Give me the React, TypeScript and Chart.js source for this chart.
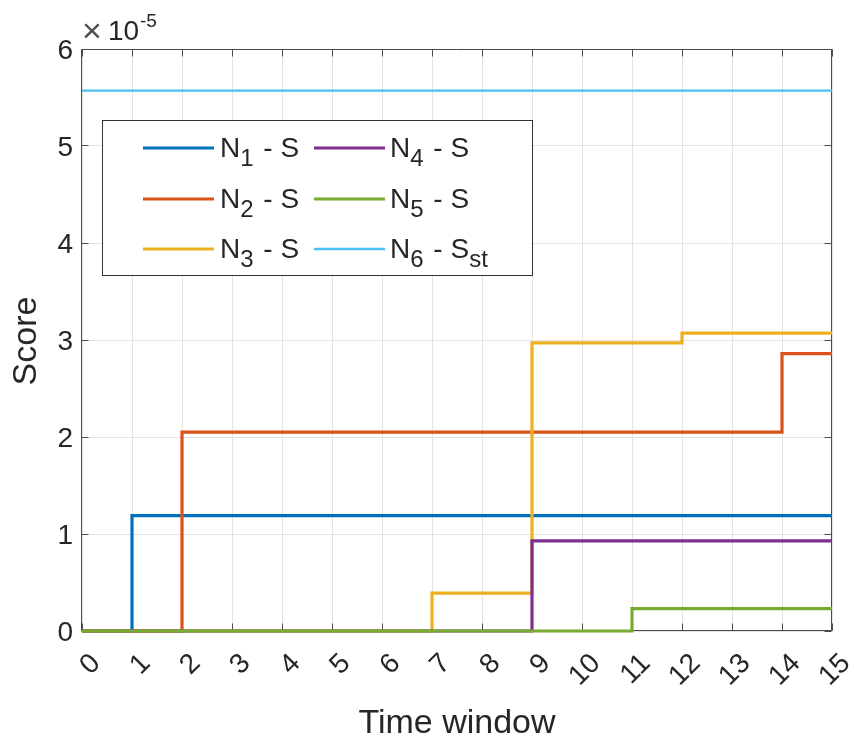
import React, { useEffect, useRef } from 'react';
import { Chart, registerables } from 'chart.js';
Chart.register(...registerables);

// Time windows (x) and scores (in units of 1e-5)
const timeWindows = [0, 1, 2, 3, 4, 5, 6, 7, 8, 9, 10, 11, 12, 13, 14, 15];
const n1S = [0, 1.19, 1.19, 1.19, 1.19, 1.19, 1.19, 1.19, 1.19, 1.19, 1.19, 1.19, 1.19, 1.19, 1.19, 1.19];
const n2S = [0, 0, 2.05, 2.05, 2.05, 2.05, 2.05, 2.05, 2.05, 2.05, 2.05, 2.05, 2.05, 2.05, 2.86, 2.86];
const n3S = [0, 0, 0, 0, 0, 0, 0, 0.39, 0.39, 2.97, 2.97, 2.97, 3.07, 3.07, 3.07, 3.07];
const n4S = [0, 0, 0, 0, 0, 0, 0, 0, 0, 0.93, 0.93, 0.93, 0.93, 0.93, 0.93, 0.93];
const n5S = [0, 0, 0, 0, 0, 0, 0, 0, 0, 0, 0, 0.23, 0.23, 0.23, 0.23, 0.23];
const n6Sst = [5.57, 5.57, 5.57, 5.57, 5.57, 5.57, 5.57, 5.57, 5.57, 5.57, 5.57, 5.57, 5.57, 5.57, 5.57, 5.57];

const xTickLabels = ['0', '1', '2', '3', '4', '5', '6', '7', '8', '9', '10', '11', '12', '13', '14', '15'];
const yTickLabels = ['0', '1', '2', '3', '4', '5', '6'];
const exponentLabel = '-5';
const xTitle = 'Time window';
const yTitle = 'Score';

const seriesNames = [
  { main: 'N', sub: '1', rest: ' - S', sub2: '' },
  { main: 'N', sub: '2', rest: ' - S', sub2: '' },
  { main: 'N', sub: '3', rest: ' - S', sub2: '' },
  { main: 'N', sub: '4', rest: ' - S', sub2: '' },
  { main: 'N', sub: '5', rest: ' - S', sub2: '' },
  { main: 'N', sub: '6', rest: ' - S', sub2: 'st' },
];
const seriesValues = [n1S, n2S, n3S, n4S, n5S, n6Sst];
const seriesColors = ['#0072BD', '#D95319', '#EDB120', '#7E2F8E', '#77AC30', '#4DBEEE'];
const seriesWidths = [3.2, 3.2, 3.2, 3.2, 3.2, 2.3];

const FONT = "'Liberation Sans', Arial, Helvetica, sans-serif";
const TEXT = '#262626';

const matlabPlugin = {
  id: 'matlabLook',
  beforeDatasetsDraw(chart: any) {
    const { ctx, chartArea: a, scales } = chart;
    const xs = scales.x;
    const ys = scales.y;
    const L = a.left - 0.5, R = a.right - 0.5, T = a.top + 0.5, B = a.bottom - 0.5;
    ctx.save();
    ctx.strokeStyle = '#4a4a4a';
    ctx.lineWidth = 1;
    ctx.beginPath();
    ctx.rect(L, T, R - L, B - T);
    ctx.stroke();
    const tl = 7;
    ctx.beginPath();
    xs.ticks.forEach((t: any) => {
      const px = Math.round(xs.getPixelForValue(t.value) - 0.5) + 0.5;
      ctx.moveTo(px, B); ctx.lineTo(px, B - tl);
      ctx.moveTo(px, T); ctx.lineTo(px, T + tl);
    });
    ys.ticks.forEach((t: any) => {
      const py = Math.round(ys.getPixelForValue(t.value) - 0.5) + 0.5;
      ctx.moveTo(L, py); ctx.lineTo(L + tl, py);
      ctx.moveTo(R, py); ctx.lineTo(R - tl, py);
    });
    ctx.stroke();
    ctx.restore();
  },
  afterDraw(chart: any) {
    const { ctx, chartArea: a, scales } = chart;
    const xs = scales.x;
    const ys = scales.y;
    ctx.save();
    ctx.fillStyle = TEXT;

    // y tick labels
    ctx.font = `28px ${FONT}`;
    ctx.textAlign = 'right';
    ctx.textBaseline = 'middle';
    ys.ticks.forEach((t: any, i: number) => {
      const py = ys.getPixelForValue(t.value);
      ctx.fillText(yTickLabels[i] ?? String(t.value), a.left - 9, py + 2.5);
    });

    // x tick labels, rotated 45 degrees
    xs.ticks.forEach((t: any, i: number) => {
      const px = xs.getPixelForValue(t.value);
      ctx.save();
      ctx.translate(px + 14, a.bottom + 28);
      ctx.rotate(-Math.PI / 4);
      ctx.textAlign = 'right';
      ctx.textBaseline = 'middle';
      ctx.fillText(xTickLabels[i] ?? String(t.value), 0, 0);
      ctx.restore();
    });

    // exponent label
    ctx.textAlign = 'left';
    ctx.textBaseline = 'alphabetic';
    ctx.fillStyle = '#4d4d4d';
    ctx.font = `34px ${FONT}`;
    ctx.fillText('\u00d7', a.left + 0, a.top - 7);
    ctx.fillStyle = TEXT;
    ctx.font = `28px ${FONT}`;
    ctx.fillText('10', a.left + 26, a.top - 9);
    ctx.font = `19px ${FONT}`;
    ctx.fillText(exponentLabel, a.left + 58, a.top - 22);

    // axis titles
    ctx.font = `34px ${FONT}`;
    ctx.textAlign = 'center';
    ctx.fillText(xTitle, (a.left + a.right) / 2 + 0, a.bottom + 102);
    ctx.save();
    ctx.translate(36, (a.top + a.bottom) / 2 + 1);
    ctx.rotate(-Math.PI / 2);
    ctx.fillText(yTitle, 0, 0);
    ctx.restore();

    // legend
    const lx = 102.5, ly = 120.5, lw = 430, lh = 155;
    ctx.fillStyle = '#ffffff';
    ctx.fillRect(lx, ly, lw, lh);
    ctx.strokeStyle = '#333333';
    ctx.lineWidth = 1;
    ctx.strokeRect(lx, ly, lw, lh);
    const colLine = [143, 314];
    const colText = [220, 390];
    const rowY = [148, 199, 249];
    seriesNames.forEach((s, i) => {
      const col = Math.floor(i / 3);
      const row = i % 3;
      const y = rowY[row];
      ctx.strokeStyle = seriesColors[i];
      ctx.lineWidth = seriesWidths[i];
      ctx.beginPath();
      ctx.moveTo(colLine[col], y);
      ctx.lineTo(colLine[col] + 71, y);
      ctx.stroke();
      let x = colText[col];
      const base = y + 9;
      ctx.fillStyle = TEXT;
      ctx.textAlign = 'left';
      ctx.textBaseline = 'alphabetic';
      ctx.font = `28px ${FONT}`;
      ctx.fillText(s.main, x, base);
      x += ctx.measureText(s.main).width;
      ctx.font = `24px ${FONT}`;
      ctx.fillText(s.sub, x, base + 9);
      x += ctx.measureText(s.sub).width + 2;
      ctx.font = `28px ${FONT}`;
      ctx.fillText(s.rest, x, base);
      x += ctx.measureText(s.rest).width;
      if (s.sub2) {
        ctx.font = `24px ${FONT}`;
        ctx.fillText(s.sub2, x, base + 9);
      }
    });
    ctx.restore();
  },
};

export default function App() {
  const canvasRef = useRef<HTMLCanvasElement | null>(null);

  useEffect(() => {
    const canvas = canvasRef.current;
    if (!canvas) return;
    const datasets = seriesValues.map((vals, i) => ({
      label: `${seriesNames[i].main}${seriesNames[i].sub}${seriesNames[i].rest}${seriesNames[i].sub2}`,
      data: timeWindows.map((t, j) => ({ x: t, y: vals[j] })),
      borderColor: seriesColors[i],
      backgroundColor: seriesColors[i],
      borderWidth: seriesWidths[i],
      pointRadius: 0,
      stepped: true,
      tension: 0,
      fill: false,
      clip: false as any,
      order: seriesValues.length - i,
    }));
    const chart = new Chart(canvas, {
      type: 'line',
      data: { datasets },
      options: {
        responsive: false,
        animation: false,
        devicePixelRatio: 1,
        layout: { padding: { left: 82, top: 49, right: 22, bottom: 109 } },
        plugins: { legend: { display: false }, tooltip: { enabled: false } },
        scales: {
          x: {
            type: 'linear',
            min: 0,
            max: 15,
            ticks: { display: false, stepSize: 1 },
            grid: { color: '#e3e3e3', lineWidth: 1, drawTicks: false },
            border: { display: false },
            title: { display: false },
          },
          y: {
            type: 'linear',
            min: 0,
            max: 6,
            ticks: { display: false, stepSize: 1 },
            grid: { color: '#e3e3e3', lineWidth: 1, drawTicks: false },
            border: { display: false },
            title: { display: false },
          },
        },
      },
      plugins: [matlabPlugin],
    });
    return () => chart.destroy();
  }, []);

  return (
    <div style={{ position: 'fixed', left: 0, top: 0, width: 854, height: 740, background: '#ffffff' }}>
      <canvas ref={canvasRef} width={854} height={740} style={{ display: 'block', width: 854, height: 740 }} />
    </div>
  );
}
